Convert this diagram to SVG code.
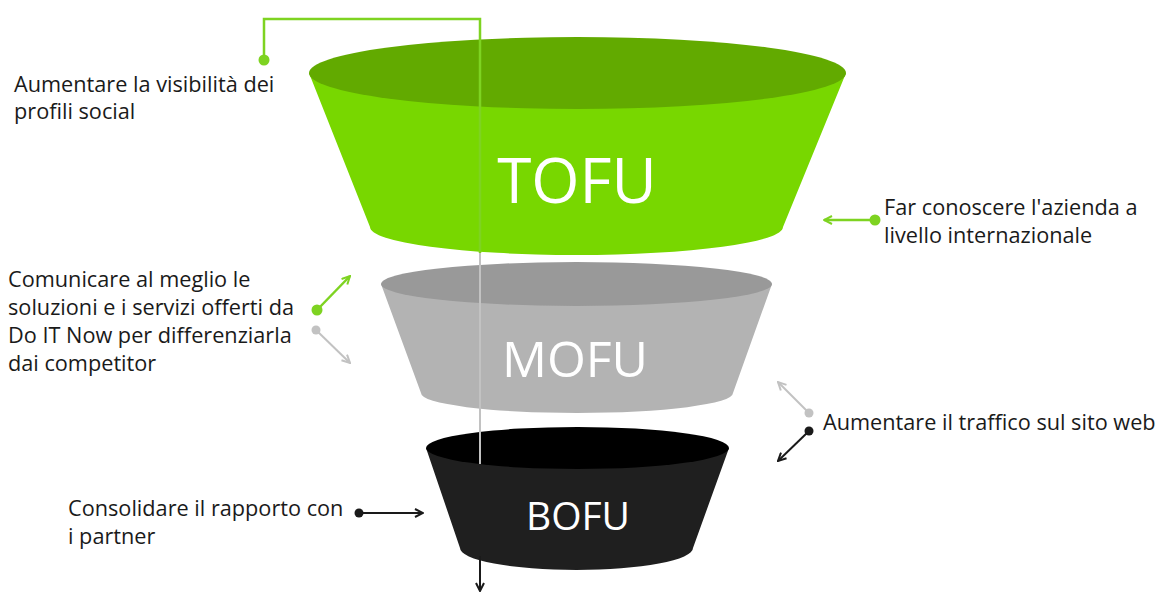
<svg xmlns="http://www.w3.org/2000/svg" width="1160" height="595" viewBox="0 0 1160 595">
<defs>
<style>
.lbl{font-family:"Open Sans","Noto Sans","Liberation Sans",sans-serif;font-size:21.7px;fill:#1a1a1a}
.big{font-family:"Open Sans","Noto Sans","Liberation Sans",sans-serif;fill:#ffffff;text-anchor:middle}
.g{stroke:#7ed321;fill:none;stroke-width:2.5}
.gy{stroke:#c2c2c2;fill:none;stroke-width:2}
.k{stroke:#1a1a1a;fill:none;stroke-width:2}
</style>
<marker id="ag" viewBox="0 0 10 10" refX="9" refY="5" markerWidth="10" markerHeight="10" markerUnits="userSpaceOnUse" orient="auto"><path d="M1,1 L9,5 L1,9" fill="none" stroke="#7ed321" stroke-width="2"/></marker>
<marker id="ay" viewBox="0 0 10 10" refX="9" refY="5" markerWidth="10" markerHeight="10" markerUnits="userSpaceOnUse" orient="auto"><path d="M1,1 L9,5 L1,9" fill="none" stroke="#c2c2c2" stroke-width="2"/></marker>
<marker id="ak" viewBox="0 0 10 10" refX="9" refY="5" markerWidth="10" markerHeight="10" markerUnits="userSpaceOnUse" orient="auto"><path d="M1,1 L9,5 L1,9" fill="none" stroke="#1a1a1a" stroke-width="2"/></marker>
</defs>
<rect width="1160" height="595" fill="#ffffff"/>

<g id="tofu">
<path d="M309,73 L370,227 A206.5,28 0 0 0 783,227 L846,73 Z" fill="#78d700"/>
<ellipse cx="577.5" cy="73" rx="268.5" ry="36" fill="#62aa00"/>
</g>
<g id="mofu">
<path d="M381,284 L421,393 A156,20 0 0 0 733,393 L772,284 Z" fill="#b3b3b3"/>
<ellipse cx="576.5" cy="284" rx="195.5" ry="22" fill="#999999"/>
</g>
<g id="bofu">
<path d="M426,448 L460,548 A116.5,22 0 0 0 693,548 L729,448 Z" fill="#1f1f1f"/>
<ellipse cx="577.5" cy="448" rx="151.5" ry="21" fill="#000000"/>
</g>

<g id="connectors">
<path class="g" d="M264,60 L264,19 L480,19 L480,253"/>
<circle cx="264" cy="60" r="5.5" fill="#7ed321"/>
<path class="gy" d="M480,253 L480,464"/>
<path class="k" d="M480,556 L480,591" marker-end="url(#ak)"/>

<line class="g" x1="875" y1="220" x2="824" y2="220" marker-end="url(#ag)"/>
<circle cx="875" cy="220" r="5.5" fill="#7ed321"/>

<line class="g" x1="317" y1="310" x2="350" y2="276" marker-end="url(#ag)"/>
<circle cx="317" cy="310" r="5.5" fill="#7ed321"/>
<line class="gy" x1="316" y1="330" x2="350" y2="363" marker-end="url(#ay)"/>
<circle cx="316" cy="330" r="4.5" fill="#c2c2c2"/>

<line class="gy" x1="809" y1="413" x2="778" y2="382" marker-end="url(#ay)"/>
<circle cx="809" cy="413" r="4.5" fill="#c2c2c2"/>
<line class="k" x1="809" y1="431" x2="778" y2="461" marker-end="url(#ak)"/>
<circle cx="809" cy="431" r="4.5" fill="#1a1a1a"/>

<line class="k" x1="359" y1="513" x2="423" y2="513" marker-end="url(#ak)"/>
<circle cx="359" cy="513" r="4.5" fill="#1a1a1a"/>
</g>

<g id="tofu-label"><text class="big" x="577" y="203" font-size="62">TOFU</text></g>
<g id="mofu-label"><text class="big" x="575" y="377" font-size="50">MOFU</text></g>
<g id="bofu-label"><text class="big" x="578" y="530" font-size="39">BOFU</text></g>

<g id="t1"><text class="lbl" x="14" y="92">Aumentare la visibilità dei</text><text class="lbl" x="14" y="119">profili social</text></g>
<g id="t2"><text class="lbl" x="884" y="215">Far conoscere l'azienda a</text><text class="lbl" x="884" y="243">livello internazionale</text></g>
<g id="t3"><text class="lbl" x="8" y="287">Comunicare al meglio le</text><text class="lbl" x="8" y="315">soluzioni e i servizi offerti da</text><text class="lbl" x="8" y="343">Do IT Now per differenziarla</text><text class="lbl" x="8" y="371">dai competitor</text></g>
<g id="t4"><text class="lbl" x="823" y="430">Aumentare il traffico sul sito web</text></g>
<g id="t5"><text class="lbl" x="68" y="516">Consolidare il rapporto con</text><text class="lbl" x="68" y="544">i partner</text></g>
</svg>
